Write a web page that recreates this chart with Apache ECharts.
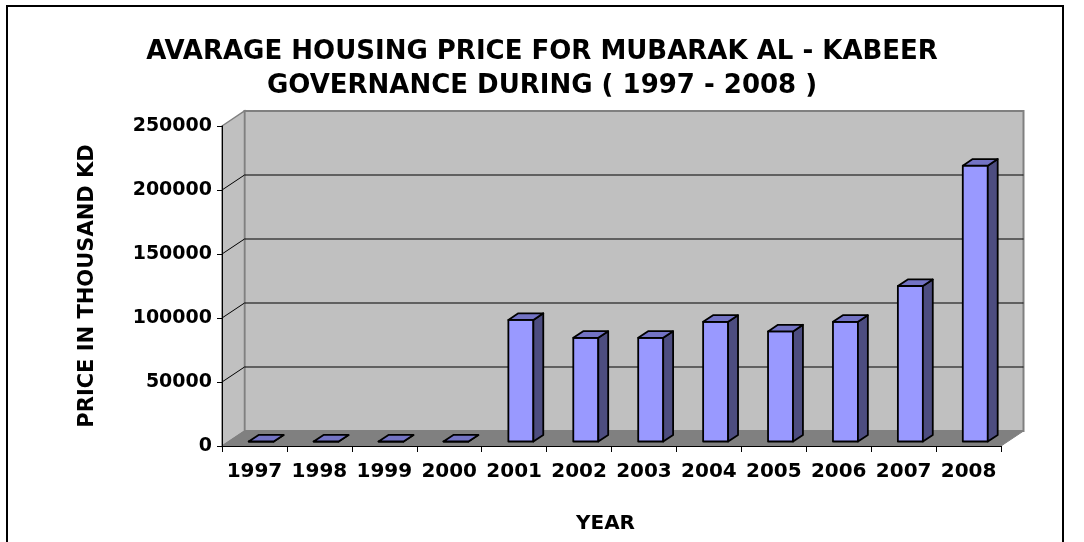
<!DOCTYPE html>
<html lang="en">
<head>
    <meta charset="UTF-8">
    <title>Mubarak Al-Kabeer housing price</title>
    <script src="https://cdn.jsdelivr.net/npm/echarts@6/dist/echarts.min.js"></script>
    <style>
        html, body { margin: 0; padding: 0; background: #fff; }
        #main { width: 1084px; height: 542px; }
    </style>
</head>
<body>
<div id="main"></div>
<script>
var years = ['1997', '1998', '1999', '2000', '2001', '2002', '2003', '2004', '2005', '2006', '2007', '2008'];
var prices = [0, 0, 0, 0, 95000, 81000, 81000, 93500, 86000, 93500, 121500, 215500];
var priceTicks = [0, 50000, 100000, 150000, 200000, 250000];

// depth of the fake 3d box (pixels) and where the columns sit inside it
var DX = 22.5, DY = -15;
var F0 = 0.3, F1 = 0.74;
var FONT = 'DejaVu Sans';

function renderWalls(params, api) {
    var cs = params.coordSys;
    var l = cs.x, r = cs.x + cs.width, t = cs.y, b = cs.y + cs.height;
    return {
        type: 'group',
        children: [
            { type: 'polygon', shape: { points: [[l + DX, t + DY], [r + DX, t + DY], [r + DX, b + DY], [l + DX, b + DY]] },
              style: { fill: '#C0C0C0', stroke: '#808080', lineWidth: 2 } },
            { type: 'polygon', shape: { points: [[l, t], [l + DX, t + DY], [l + DX, b + DY], [l, b]] },
              style: { fill: '#C0C0C0', stroke: '#808080', lineWidth: 1.5 } },
            { type: 'polygon', shape: { points: [[l, b], [r, b], [r + DX, b + DY], [l + DX, b + DY]] },
              style: { fill: '#808080', stroke: '#808080', lineWidth: 1 } }
        ]
    };
}

function renderGridLine(params, api) {
    var cs = params.coordSys;
    var y = api.coord([0, api.value(1)])[1];
    var l = cs.x, r = cs.x + cs.width;
    return {
        type: 'group',
        children: [
            { type: 'line', shape: { x1: l + DX, y1: y + DY, x2: r + DX, y2: y + DY }, style: { stroke: '#000', lineWidth: 1 } },
            { type: 'line', shape: { x1: l, y1: y, x2: l + DX, y2: y + DY }, style: { stroke: '#000', lineWidth: 1 } }
        ]
    };
}

function renderColumn(params, api) {
    var top = api.coord([api.value(0), api.value(1)]);
    var base = api.coord([api.value(0), 0]);
    var w = api.size([1, 0])[0] * 0.385;
    var x0 = top[0] - w / 2 + F0 * DX, x1 = x0 + w;
    var yT = top[1] + F0 * DY, yB = base[1] + F0 * DY;
    var ddx = (F1 - F0) * DX, ddy = (F1 - F0) * DY;
    var edge = { stroke: '#000', lineWidth: 1.8, lineJoin: 'round' };
    return {
        type: 'group',
        children: [
            { type: 'polygon', shape: { points: [[x0, yB], [x1, yB], [x1, yT], [x0, yT]] },
              style: Object.assign({ fill: '#9999FF' }, edge) },
            { type: 'polygon', shape: { points: [[x1, yB], [x1, yT], [x1 + ddx, yT + ddy], [x1 + ddx, yB + ddy]] },
              style: Object.assign({ fill: '#4D4D80' }, edge) },
            { type: 'polygon', shape: { points: [[x0, yT], [x1, yT], [x1 + ddx, yT + ddy], [x0 + ddx, yT + ddy]] },
              style: Object.assign({ fill: '#7373C4' }, edge) }
        ]
    };
}

var option = {
    backgroundColor: '#fff',
    animation: false,
    title: {
        text: 'AVARAGE HOUSING PRICE FOR MUBARAK AL - KABEER\nGOVERNANCE DURING ( 1997 - 2008 )',
        left: 'center',
        top: 30,
        textStyle: { fontFamily: FONT, fontWeight: 'bold', fontSize: 26, lineHeight: 34, color: '#000' }
    },
    graphic: [{
        type: 'rect',
        shape: { x: 7, y: 6, width: 1056, height: 600 },
        style: { fill: 'none', stroke: '#000', lineWidth: 2 },
        silent: true
    }],
    grid: { left: 222, right: 83, top: 126, bottom: 96 },
    xAxis: {
        type: 'category',
        data: years,
        z: 10,
        name: 'YEAR',
        nameLocation: 'middle',
        nameGap: 68,
        nameTextStyle: { fontFamily: FONT, fontWeight: 'bold', fontSize: 20, color: '#000', padding: [0, 12, 0, 0] },
        axisLine: { lineStyle: { color: '#000', width: 1 } },
        axisTick: { show: true, length: 6, lineStyle: { color: '#000' } },
        axisLabel: { interval: 0, margin: 16, fontFamily: FONT, fontWeight: 'bold', fontSize: 20, color: '#000' },
        splitLine: { show: false }
    },
    yAxis: {
        type: 'value',
        min: 0,
        max: 250000,
        interval: 50000,
        z: 10,
        name: 'PRICE IN THOUSAND KD',
        nameLocation: 'middle',
        nameRotate: 90,
        nameGap: 124,
        nameTextStyle: { fontFamily: FONT, fontWeight: 'bold', fontSize: 21, color: '#000' },
        axisLine: { show: true, lineStyle: { color: '#000', width: 1 } },
        axisTick: { show: true, length: 5, lineStyle: { color: '#000' } },
        axisLabel: {
            margin: 10, fontFamily: FONT, fontWeight: 'bold', fontSize: 19, color: '#000',
            formatter: function (v) { return String(v); }
        },
        splitLine: { show: false }
    },
    series: [
        {
            type: 'custom',
            z: 1,
            silent: true,
            clip: false,
            renderItem: renderWalls,
            data: [[0, 0]]
        },
        {
            type: 'custom',
            z: 2,
            silent: true,
            clip: false,
            renderItem: renderGridLine,
            data: priceTicks.slice(1, -1).map(function (v) { return [0, v]; })
        },
        {
            type: 'custom',
            z: 3,
            clip: false,
            renderItem: renderColumn,
            data: prices.map(function (v, i) { return [i, v]; })
        }
    ]
};

var myChart = echarts.init(document.getElementById('main'));
myChart.setOption(option);
</script>
</body>
</html>
